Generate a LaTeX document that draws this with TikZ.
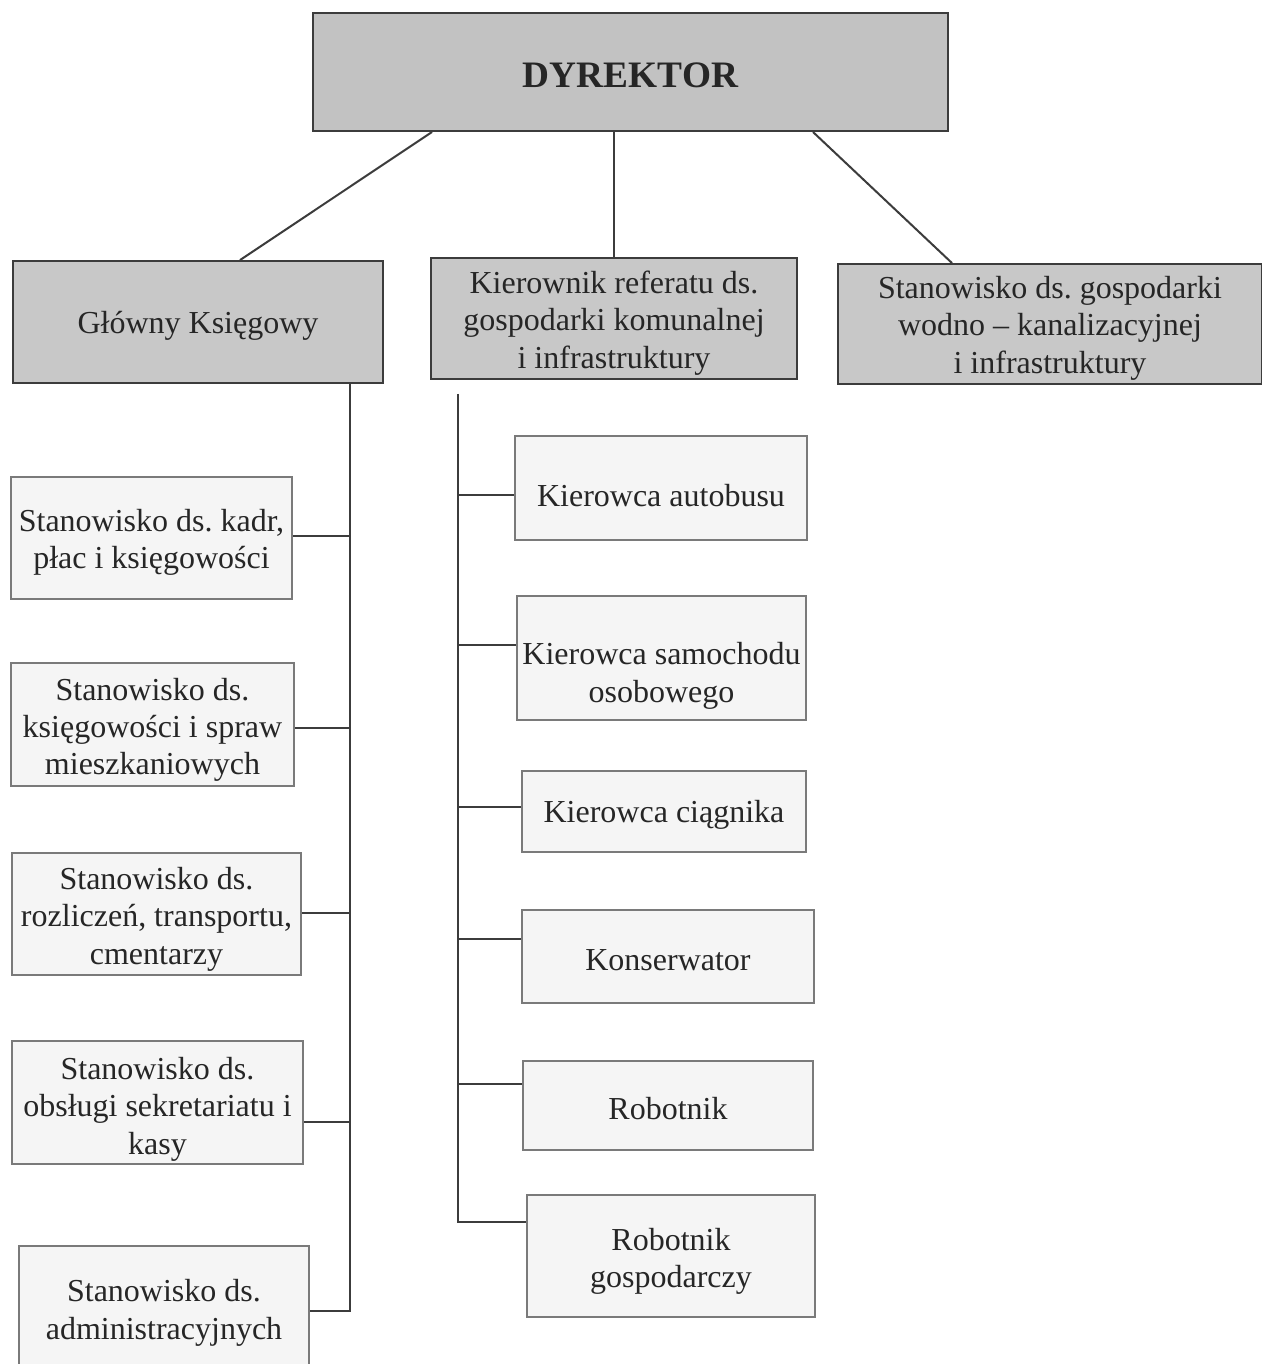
\documentclass[tikz,border=0pt]{standalone}
\usepackage{fontspec}
\setmainfont{Liberation Serif}
\usetikzlibrary{calc}
\definecolor{dyrfill}{HTML}{C2C2C2}
\definecolor{grayfill}{HTML}{C8C8C8}
\definecolor{whitefill}{HTML}{F5F5F5}
\definecolor{darkline}{HTML}{3C3C3C}
\definecolor{lightline}{HTML}{7A7A7A}
\newcommand{\mystrut}[1]{\rule{0pt}{#1}}
\tikzset{
  dn/.style={execute at begin node={\rule{0pt}{#1}}},
  box/.style 2 args={rectangle, inner sep=0pt, align=center,
    minimum width=#1*0.75pt, minimum height=#2*0.75pt,
    font=\fontsize{24}{28}\selectfont, text=black!85},
  graybox/.style={fill=grayfill, draw=darkline, line width=1.4pt},
  whitebox/.style={fill=whitefill, draw=lightline, line width=1.3pt},
  conn/.style={draw=darkline, line width=1.5pt},
}
\frenchspacing
\begin{document}
\frenchspacing
\begin{tikzpicture}[x=0.75pt,y=-0.75pt]
\useasboundingbox (0,0) rectangle (1261,1364);
\fill[white] (0,0) rectangle (1261,1364);

% top level
\node[box={635}{118}, fill=dyrfill, draw=darkline, line width=1.5pt,
      font=\fontsize{28}{32}\selectfont\bfseries, dn=23pt] (dyr) at (630.5,72) {DYREKTOR};

% second level
\node[box={370}{122}, graybox, dn=22.5pt] (gk) at (198,322) {Główny Księgowy};
\node[box={366}{121}, graybox] (kr) at (614,318.5) {\mystrut{23.7pt}Kierownik referatu ds.\\gospodarki komunalnej\\i infrastruktury};
\node[box={424}{120}, graybox] (sw) at (1050,324) {\mystrut{23pt}Stanowisko ds. gospodarki\\wodno – kanalizacyjnej\\i infrastruktury};

% left column
\node[box={281}{122}, whitebox] (l1) at (151.5,538) {\mystrut{23pt}Stanowisko ds. kadr,\\płac i księgowości};
\node[box={283}{123}, whitebox] (l2) at (152.5,724.5) {\mystrut{24.5pt}Stanowisko ds.\\księgowości i spraw\\mieszkaniowych};
\node[box={289}{122}, whitebox] (l3) at (156.5,914) {\mystrut{24.5pt}Stanowisko ds.\\rozliczeń, transportu,\\cmentarzy};
\node[box={291}{123}, whitebox] (l4) at (157.5,1102.5) {\mystrut{26.7pt}Stanowisko ds.\\obsługi sekretariatu i\\kasy};
\node[box={290}{122}, whitebox] (l5) at (164,1307) {\mystrut{25.2pt}Stanowisko ds.\\administracyjnych};

% middle column
\node[box={292}{104}, whitebox, dn=28.5pt] (m1) at (661,488) {Kierowca autobusu};
\node[box={289}{124}, whitebox] (m2) at (661.5,658) {\mystrut{43.2pt}Kierowca samochodu\\osobowego};
\node[box={284}{81}, whitebox, dn=22pt] (m3) at (664,811.5) {Kierowca ciągnika};
\node[box={292}{93}, whitebox, dn=21.5pt] (m4) at (668,956.5) {Konserwator};
\node[box={290}{89}, whitebox, dn=21.5pt] (m5) at (668,1105.5) {Robotnik};
\node[box={288}{122}, whitebox] (m6) at (671,1256) {\mystrut{24.5pt}Robotnik\\gospodarczy};

% connectors from director
\draw[conn] ($(dyr.south)+(-198.5,0)$) -- ($(gk.north)+(42,0)$);
\draw[conn] ($(dyr.south)+(-16.5,0)$) -- (kr.north);
\draw[conn] ($(dyr.south)+(182.5,0)$) -- ($(sw.north)+(-98,0)$);

% left trunk
\coordinate (lt) at ($(gk.south)+(152,0)$);
\coordinate (lb) at ($(l5.east)+(0,4)$);
\draw[conn] (lt) -- (lt |- lb) -- (lb);
\draw[conn] ($(l1.east)+(0,-2)$) -- (lt |- {$(l1.east)+(0,-2)$});
\draw[conn] ($(l2.east)+(0,3.5)$) -- (lt |- {$(l2.east)+(0,3.5)$});
\draw[conn] ($(l3.east)+(0,-1)$) -- (lt |- {$(l3.east)+(0,-1)$});
\draw[conn] ($(l4.east)+(0,19)$) -- (lt |- {$(l4.east)+(0,19)$});

% middle trunk
\coordinate (mt) at ($(kr.south west)+(28,14)$);
\coordinate (mb) at ($(m6.west)+(0,-34)$);
\draw[conn] (mt) -- (mt |- mb) -- (mb);
\draw[conn] (mt |- {$(m1.west)+(0,7)$}) -- ($(m1.west)+(0,7)$);
\draw[conn] (mt |- {$(m2.west)+(0,-13)$}) -- ($(m2.west)+(0,-13)$);
\draw[conn] (mt |- {$(m3.west)+(0,-5)$}) -- ($(m3.west)+(0,-5)$);
\draw[conn] (mt |- {$(m4.west)+(0,-18)$}) -- ($(m4.west)+(0,-18)$);
\draw[conn] (mt |- {$(m5.west)+(0,-22)$}) -- ($(m5.west)+(0,-22)$);
\end{tikzpicture}
\end{document}
